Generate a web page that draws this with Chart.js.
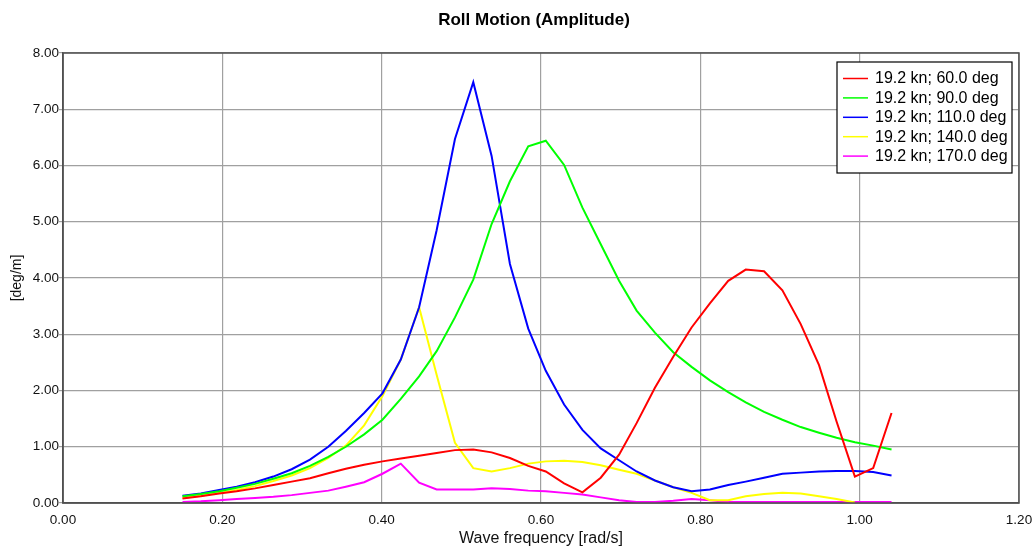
<!DOCTYPE html>
<html>
<head>
<meta charset="utf-8">
<script src="https://cdn.jsdelivr.net/npm/chart.js@4.4.1/dist/chart.umd.min.js"></script>
<style>
html,body{margin:0;padding:0;background:#fff;}
canvas{display:block;}
</style>
</head>
<body>
<canvas id="c" width="1036" height="548"></canvas>
<script>
// ---- data ----
const chartTitle = "Roll Motion (Amplitude)";
const xTitle = "Wave frequency [rad/s]";
const yTitle = "[deg/m]";

const freq = [0.150,0.173,0.196,0.218,0.241,0.264,0.287,0.310,0.333,0.355,
              0.378,0.401,0.424,0.447,0.469,0.492,0.515,0.538,0.561,0.584,
              0.606,0.629,0.652,0.675,0.698,0.720,0.743,0.766,0.789,0.812,
              0.835,0.857,0.880,0.903,0.926,0.949,0.971,0.994,1.017,1.040];

const labels = ["19.2 kn; 60.0 deg","19.2 kn; 90.0 deg","19.2 kn; 110.0 deg","19.2 kn; 140.0 deg","19.2 kn; 170.0 deg"];
const colors = ["#ff0000","#00ff00","#0000ff","#ffff00","#ff00ff"];

const s60 = [0.08,0.12,0.17,0.21,0.26,0.32,0.38,0.44,0.53,0.61,
             0.68,0.74,0.79,0.84,0.89,0.94,0.95,0.90,0.80,0.66,
             0.56,0.35,0.19,0.45,0.86,1.42,2.05,2.60,3.12,3.55,
             3.95,4.15,4.12,3.78,3.18,2.45,1.45,0.47,0.62,1.60];

const s90 = [0.12,0.16,0.21,0.27,0.34,0.43,0.53,0.66,0.82,1.00,
             1.22,1.48,1.85,2.25,2.70,3.30,3.97,4.96,5.72,6.34,
             6.44,6.01,5.25,4.60,3.95,3.42,3.03,2.68,2.42,2.18,
             1.97,1.79,1.62,1.48,1.35,1.25,1.16,1.08,1.02,0.95];

const s110 = [0.13,0.17,0.23,0.29,0.37,0.47,0.60,0.77,1.00,1.28,
              1.60,1.95,2.55,3.48,4.85,6.47,7.48,6.17,4.25,3.10,
              2.35,1.75,1.30,0.97,0.76,0.56,0.40,0.28,0.21,0.24,
              0.32,0.38,0.45,0.52,0.54,0.56,0.57,0.57,0.55,0.49];

const s140 = [0.09,0.13,0.18,0.23,0.30,0.39,0.49,0.62,0.80,1.02,
              1.38,1.90,2.55,3.48,2.28,1.07,0.62,0.56,0.62,0.70,
              0.74,0.75,0.73,0.67,0.59,0.52,0.40,0.28,0.18,0.05,
              0.05,0.12,0.16,0.18,0.17,0.12,0.07,0.01,null,null];

const s170 = [0.02,0.03,0.05,0.07,0.09,0.11,0.14,0.18,0.22,0.29,
              0.37,0.52,0.70,0.36,0.24,0.24,0.24,0.26,0.25,0.22,
              0.21,0.18,0.15,0.10,0.05,0.02,0.02,0.04,0.07,0.05,
              0.02,0.02,0.02,0.02,0.02,0.02,0.02,0.02,0.02,0.02];

const series = [s60, s90, s110, s140, s170];

const xMin = 0, xMax = 1.2, xStep = 0.2;
const yMin = 0, yMax = 8, yStep = 1;

// ---- chart ----
const FONT = '"Liberation Sans", Arial, sans-serif';

const titlePlugin = {
  id: 'customTitle',
  afterDraw(chart) {
    const ctx = chart.ctx;
    ctx.save();
    ctx.font = 'bold 17px ' + FONT;
    ctx.fillStyle = '#000';
    ctx.textAlign = 'center';
    ctx.textBaseline = 'middle';
    ctx.fillText(chartTitle, 534, 20);
    ctx.restore();
  }
};

const framePlugin = {
  id: 'frame',
  afterDatasetsDraw(chart) {
    const a = chart.chartArea, ctx = chart.ctx;
    ctx.save();
    ctx.strokeStyle = '#505050';
    ctx.lineWidth = 1.5;
    ctx.strokeRect(a.left, a.top, a.right - a.left, a.bottom - a.top);
    ctx.restore();
  }
};

const legendPlugin = {
  id: 'boxLegend',
  afterDraw(chart) {
    const ctx = chart.ctx;
    const ds = chart.data.datasets;
    const bx = 837, by = 62, bw = 175, bh = 111;
    ctx.save();
    ctx.fillStyle = '#fff';
    ctx.fillRect(bx, by, bw, bh);
    ctx.strokeStyle = '#000';
    ctx.lineWidth = 1.2;
    ctx.strokeRect(bx, by, bw, bh);
    ctx.font = '16px ' + FONT;
    ctx.textBaseline = 'middle';
    ctx.textAlign = 'left';
    ds.forEach((d, i) => {
      const y = 78.5 + i * 19.4;
      ctx.strokeStyle = d.borderColor;
      ctx.lineWidth = 1.5;
      ctx.beginPath();
      ctx.moveTo(843, y);
      ctx.lineTo(868, y);
      ctx.stroke();
      ctx.fillStyle = '#000';
      ctx.fillText(d.label, 875, y + 0.5);
    });
    ctx.restore();
  }
};

new Chart(document.getElementById('c'), {
  type: 'line',
  data: {
    datasets: series.map((s, i) => ({
      label: labels[i],
      data: freq.map((f, k) => ({x: f, y: s[k]})),
      borderColor: colors[i],
      backgroundColor: colors[i],
      borderWidth: 2,
      pointRadius: 0,
      tension: 0,
      spanGaps: false,
      fill: false
    }))
  },
  options: {
    responsive: false,
    animation: false,
    layout: { padding: { left: 0, right: 17, top: 53, bottom: 0 } },
    plugins: {
      legend: { display: false },
      title: { display: false },
      tooltip: { enabled: false }
    },
    scales: {
      x: {
        type: 'linear',
        min: xMin, max: xMax,
        afterFit(scale) { scale.height = 45; scale.paddingLeft = 0; scale.paddingRight = 0; },
        ticks: {
          stepSize: xStep,
          color: '#111',
          padding: 9,
          maxRotation: 0,
          font: { family: FONT, size: 13.5 },
          callback: v => Number(v).toFixed(2)
        },
        grid: { color: '#a0a0a0', lineWidth: 1.2, drawTicks: false },
        border: { display: true, color: '#505050', width: 1.5 },
        title: {
          display: true, text: xTitle, color: '#111',
          font: { family: FONT, size: 16 },
          padding: { top: 0, bottom: 0 }
        }
      },
      y: {
        type: 'linear',
        min: yMin, max: yMax,
        afterFit(scale) { scale.width = 63; scale.paddingTop = 0; scale.paddingBottom = 0; },
        ticks: {
          stepSize: yStep,
          color: '#111',
          padding: 0,
          font: { family: FONT, size: 13.5 },
          callback: v => Number(v).toFixed(2)
        },
        grid: { color: '#a0a0a0', lineWidth: 1.2, drawTicks: true, tickLength: 4 },
        border: { display: true, color: '#505050', width: 1.5 },
        title: {
          display: true, text: yTitle, color: '#111',
          font: { family: FONT, size: 14 },
          padding: { top: 9, bottom: 0 }
        }
      }
    }
  },
  plugins: [framePlugin, legendPlugin, titlePlugin]
});
</script>
</body>
</html>
